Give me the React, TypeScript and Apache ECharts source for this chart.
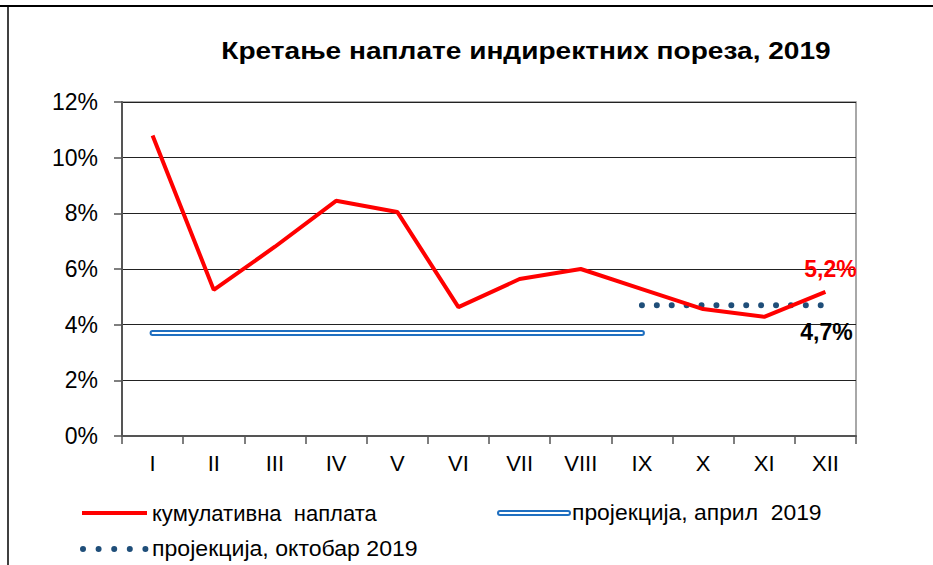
import React, { useEffect, useRef } from "react";
import * as echarts from "echarts";

const months = ["I", "II", "III", "IV", "V", "VI", "VII", "VIII", "IX", "X", "XI", "XII"];
const cumulative = [10.8, 5.25, 6.8, 8.45, 8.05, 4.63, 5.64, 6.0, 5.28, 4.56, 4.28, 5.18];
const projApril = [3.7, 3.7, 3.7, 3.7, 3.7, 3.7, 3.7, 3.7, 3.7, null, null, null];
const projOctober = [null, null, null, null, null, null, null, null, 4.7, 4.7, 4.7, 4.7];
const yTicks = { min: 0, max: 12, interval: 2 };
const title = "Кретање наплате индиректних пореза, 2019";
const legendNames = ["кумулативна  наплата", "пројекција, април  2019", "пројекција, октобар 2019"];
const endLabels = { cumulative: "5,2%", october: "4,7%" };

const FONT = "'Liberation Sans', Arial, sans-serif";

export default function App() {
  const ref = useRef<HTMLDivElement>(null);
  useEffect(() => {
    if (!ref.current) return;
    const chart = echarts.init(ref.current, null, { renderer: "svg" });
    const last = cumulative.length - 1;
    const cumData = cumulative.map((v, i) =>
      i === last
        ? {
            value: v,
            label: {
              show: true,
              position: "top",
              offset: [5, -6],
              formatter: endLabels.cumulative,
              color: "#ff0000",
              fontSize: 23,
              fontWeight: "bold",
              fontFamily: FONT,
            },
          }
        : v
    );
    const octData = projOctober.map((v, i) =>
      i === last
        ? {
            value: v,
            label: {
              show: true,
              position: "bottom",
              offset: [1, 10],
              formatter: endLabels.october,
              color: "#000",
              fontSize: 23,
              fontWeight: "bold",
              fontFamily: FONT,
            },
          }
        : v
    );
    const hiddenSymbol = {
      symbol: "circle",
      symbolSize: 1,
      showSymbol: true,
      itemStyle: { color: "rgba(0,0,0,0)" },
    };
    chart.setOption({
      animation: false,
      backgroundColor: "#fff",
      textStyle: { fontFamily: FONT },
      grid: {
        left: 122,
        right: 77,
        top: 102,
        bottom: 129,
        show: true,
        borderColor: "#8c8c8c",
        borderWidth: 1.5,
      },
      xAxis: {
        type: "category",
        data: months,
        boundaryGap: true,
        axisLine: { lineStyle: { color: "#555", width: 2 } },
        axisTick: { show: true, length: 8, lineStyle: { color: "#555", width: 1.5 } },
        axisLabel: { color: "#000", fontSize: 22, margin: 16, fontFamily: FONT },
      },
      yAxis: {
        type: "value",
        min: yTicks.min,
        max: yTicks.max,
        interval: yTicks.interval,
        axisLine: { show: true, lineStyle: { color: "#555", width: 2 } },
        axisTick: { show: true, length: 8, lineStyle: { color: "#555", width: 1.5 } },
        axisLabel: { color: "#000", fontSize: 23, margin: 24, formatter: "{value}%", fontFamily: FONT },
        splitLine: { lineStyle: { color: "#222", width: 1.2 } },
      },
      series: [
        {
          type: "line",
          data: projApril,
          symbol: "none",
          z: 2,
          lineStyle: { color: "#1f6fc0", width: 6, cap: "round" },
        },
        {
          type: "line",
          data: projApril,
          symbol: "none",
          z: 3,
          lineStyle: { color: "#fff", width: 2, cap: "round" },
        },
        {
          type: "line",
          data: octData,
          ...hiddenSymbol,
          z: 4,
          lineStyle: { color: "#1f4e79", width: 6, type: [0, 14.9], cap: "round" },
        },
        {
          type: "line",
          data: cumData,
          ...hiddenSymbol,
          z: 5,
          lineStyle: { color: "#ff0000", width: 4 },
        },
      ],
      graphic: [
        { type: "line", shape: { x1: 0, y1: 6, x2: 933, y2: 6 }, style: { stroke: "#000", lineWidth: 2 } },
        { type: "line", shape: { x1: 8, y1: 6, x2: 8, y2: 565 }, style: { stroke: "#000", lineWidth: 1.5 } },
        {
          type: "text",
          x: 526,
          y: 51,
          scaleX: 1.17,
          style: {
            text: title,
            fontSize: 24,
            fontWeight: "bold",
            fontFamily: FONT,
            fill: "#000",
            align: "center",
            verticalAlign: "middle",
          },
        },
        // legend: red line
        { type: "line", shape: { x1: 82, y1: 513, x2: 147, y2: 513 }, style: { stroke: "#ff0000", lineWidth: 4 } },
        {
          type: "text",
          x: 152,
          y: 513,
          style: { text: legendNames[0], fontSize: 22, fontFamily: FONT, fill: "#000", verticalAlign: "middle" },
        },
        // legend: blue double line
        {
          type: "line",
          shape: { x1: 500, y1: 513, x2: 568, y2: 513 },
          style: { stroke: "#1f6fc0", lineWidth: 6, lineCap: "round" },
        },
        {
          type: "line",
          shape: { x1: 500, y1: 513, x2: 568, y2: 513 },
          style: { stroke: "#fff", lineWidth: 2, lineCap: "round" },
        },
        {
          type: "text",
          x: 572,
          y: 513,
          scaleX: 1.04,
          style: { text: legendNames[1], fontSize: 22, fontFamily: FONT, fill: "#000", verticalAlign: "middle" },
        },
        // legend: dotted
        {
          type: "line",
          shape: { x1: 83, y1: 549, x2: 146, y2: 549 },
          style: { stroke: "#1f4e79", lineWidth: 6, lineCap: "round", lineDash: [0, 15.6] },
        },
        {
          type: "text",
          x: 152,
          y: 549,
          scaleX: 1.05,
          style: { text: legendNames[2], fontSize: 22, fontFamily: FONT, fill: "#000", verticalAlign: "middle" },
        },
      ],
    });
    return () => chart.dispose();
  }, []);
  return (
    <div
      ref={ref}
      style={{ position: "fixed", left: 0, top: 0, width: 933, height: 565 }}
    />
  );
}
